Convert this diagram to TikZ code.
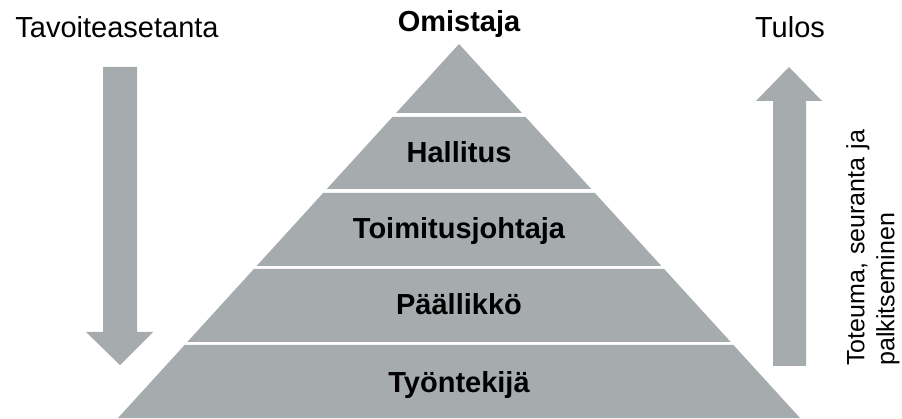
\documentclass[tikz,border=0pt]{standalone}
\usepackage{fontspec}
\setmainfont{Liberation Sans}
\usetikzlibrary{calc}
\definecolor{pyrgray}{RGB}{166,171,174}
\tikzset{
  pyr/.style={fill=pyrgray},
  lbl/.style={font=\fontsize{29}{34}\selectfont, inner sep=0pt, anchor=base},
  blbl/.style={lbl, font=\fontsize{29}{34}\selectfont\bfseries}
}
\newcommand\pyrband[2]{%
  \fill[pyr] ($(A)!{(#1-44)/374}!(BL)$) -- ($(A)!{(#2-44)/374}!(BL)$)
    -- ($(A)!{(#2-44)/374}!(BR)$) -- ($(A)!{(#1-44)/374}!(BR)$) -- cycle;}
\begin{document}
\begin{tikzpicture}[x=1pt,y=-1pt]
\useasboundingbox (0,0) rectangle (902,419);
\coordinate (A) at (459,44);
\coordinate (BL) at (118,418);
\coordinate (BR) at (800,418);
% pyramid
\fill[pyr] (A) -- ($(A)!{69/374}!(BL)$) -- ($(A)!{69/374}!(BR)$) -- cycle;
\pyrband{117}{189}
\pyrband{193}{266}
\pyrband{269}{342}
\pyrband{345}{418}
% arrows
\fill[pyr] (103,67) -- (137,67) -- (137,332) -- (153,332) -- (120,365) -- (86,332) -- (103,332) -- cycle;
\fill[pyr] (773,366) -- (806,366) -- (806,101) -- (822,101) -- (789,67) -- (756,101) -- (773,101) -- cycle;
% texts
\node[lbl] (tavo) at (117,38) {Tavoiteasetanta};
\node[blbl] (omis) at (459,32) {Omistaja};
\node[lbl] (tulos) at (790,38) {Tulos};
\node[blbl] (hall) at (459,163) {Hallitus};
\node[blbl] (toim) at (459,239) {Toimitusjohtaja};
\node[blbl] (paal) at (459,315) {Päällikkö};
\node[blbl] (tyon) at (459,392) {Työntekijä};
\node[rotate=90, anchor=north west, inner sep=0pt, text width=247pt, align=left,
      font=\fontsize{25}{30}\selectfont] (tote) at (846,366)
  {\makebox[247pt][s]{Toteuma, seuranta ja}\\palkitseminen};
\end{tikzpicture}
\end{document}
